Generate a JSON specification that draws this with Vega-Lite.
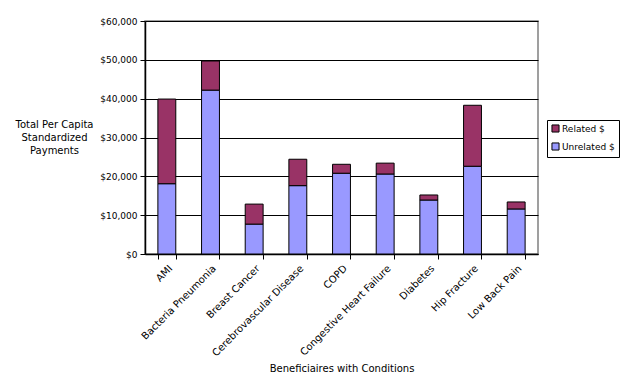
{
  "$schema": "https://vega.github.io/schema/vega-lite/v6.json",
  "autosize": {"type": "none"},
  "padding": {"left": 145, "top": 21, "right": 86, "bottom": 134},
  "width": 393,
  "height": 233,
  "background": "white",
  "config": {
    "font": "DejaVu Sans",
    "view": {"stroke": "#808080", "strokeWidth": 1.5},
    "legend": {"strokeColor": "black", "fillColor": "white", "strokeWidth": 1}
  },
  "data": {
    "values": [
      {"condition": "AMI", "series": "Unrelated $", "value": 18100},
      {"condition": "AMI", "series": "Related $", "value": 21800},
      {"condition": "Bacteria Pneumonia", "series": "Unrelated $", "value": 42200},
      {"condition": "Bacteria Pneumonia", "series": "Related $", "value": 7500},
      {"condition": "Breast Cancer", "series": "Unrelated $", "value": 7700},
      {"condition": "Breast Cancer", "series": "Related $", "value": 5150},
      {"condition": "Cerebrovascular Disease", "series": "Unrelated $", "value": 17600},
      {"condition": "Cerebrovascular Disease", "series": "Related $", "value": 6800},
      {"condition": "COPD", "series": "Unrelated $", "value": 20800},
      {"condition": "COPD", "series": "Related $", "value": 2300},
      {"condition": "Congestive Heart Failure", "series": "Unrelated $", "value": 20600},
      {"condition": "Congestive Heart Failure", "series": "Related $", "value": 2800},
      {"condition": "Diabetes", "series": "Unrelated $", "value": 13900},
      {"condition": "Diabetes", "series": "Related $", "value": 1300},
      {"condition": "Hip Fracture", "series": "Unrelated $", "value": 22600},
      {"condition": "Hip Fracture", "series": "Related $", "value": 15700},
      {"condition": "Low Back Pain", "series": "Unrelated $", "value": 11600},
      {"condition": "Low Back Pain", "series": "Related $", "value": 1800}
    ]
  },
  "mark": {"type": "bar", "stroke": "black", "strokeWidth": 1},
  "encoding": {
    "x": {
      "field": "condition",
      "type": "nominal",
      "sort": null,
      "scale": {"paddingInner": 0.59, "paddingOuter": 0.295},
      "axis": {
        "title": "Beneficiaires with Conditions",
        "titleFont": "DejaVu Sans",
        "titleFontSize": 10,
        "titleFontWeight": "normal",
        "titleColor": "black",
        "titlePadding": 6,
        "labelAngle": -45,
        "labelAlign": "right",
        "labelBaseline": "top",
        "labelFontSize": 10,
        "labelColor": "black",
        "labelPadding": 4,
        "tickBand": "extent",
        "tickSize": 5,
        "tickColor": "black",
        "domainColor": "black",
        "domainWidth": 1.5
      }
    },
    "y": {
      "field": "value",
      "type": "quantitative",
      "stack": "zero",
      "scale": {"domain": [0, 60000], "nice": false},
      "axis": {
        "values": [0, 10000, 20000, 30000, 40000, 50000, 60000],
        "format": "$,.0f",
        "labelFontSize": 9,
        "labelColor": "black",
        "labelPadding": 3,
        "tickSize": 5,
        "tickColor": "black",
        "domainColor": "black",
        "domainWidth": 1.5,
        "grid": true,
        "gridColor": "black",
        "gridWidth": 1,
        "title": ["Total Per Capita", "Standardized", "Payments"],
        "titleAngle": 0,
        "titleAlign": "center",
        "titleBaseline": "top",
        "titleX": -91,
        "titleY": 98,
        "titleFontSize": 10,
        "titleFontWeight": "normal",
        "titleColor": "black",
        "titleLineHeight": 13
      }
    },
    "color": {
      "field": "series",
      "type": "nominal",
      "scale": {"domain": ["Related $", "Unrelated $"], "range": ["#993366", "#9999FF"]},
      "legend": {
        "title": null,
        "orient": "none",
        "legendX": 402,
        "legendY": 99,
        "strokeColor": "black",
        "padding": 4,
        "symbolType": "square",
        "symbolSize": 50,
        "symbolStrokeColor": "black",
        "symbolStrokeWidth": 1,
        "labelFontSize": 9,
        "labelColor": "black",
        "labelOffset": 2,
        "rowPadding": 5
      }
    },
    "order": {"field": "series", "sort": "descending"}
  }
}
